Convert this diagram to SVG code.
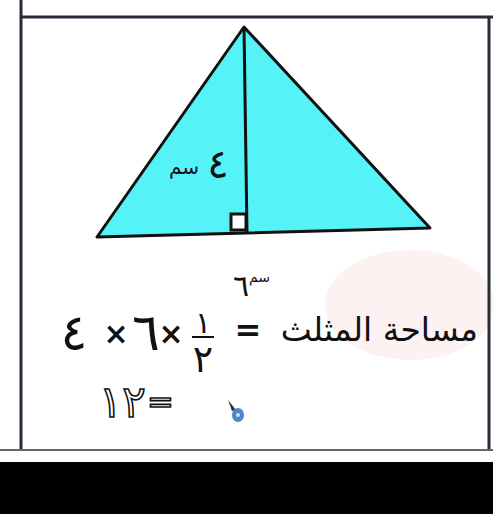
<svg xmlns="http://www.w3.org/2000/svg" width="493" height="514" viewBox="0 0 493 514">
<style>
.ar{font-family:"DejaVu Sans",sans-serif;fill:#111}
.frame{stroke:#2a2a3a;stroke-width:3;fill:none}
.edge{stroke:#111;stroke-width:3;stroke-linejoin:round}
</style>
<rect width="493" height="514" fill="#fff"/>
<ellipse cx="410" cy="305" rx="85" ry="55" fill="#fbeaea" opacity="0.6"/>
<g id="frame">
<line class="frame" x1="20" y1="17" x2="493" y2="17"/>
<line class="frame" x1="21" y1="0" x2="21" y2="450"/>
<line class="frame" x1="489" y1="17" x2="489" y2="450"/>
<line x1="0" y1="450" x2="493" y2="450" stroke="#666" stroke-width="2"/>
</g>
<rect x="0" y="462" width="493" height="52" fill="#000"/>
<g id="triangle">
<polygon class="edge" points="244,27 97,237 430,228" style="fill:#55f3f8"/>
<line class="edge" x1="244" y1="27" x2="247" y2="233" stroke-width="2.5"/>
<rect x="231" y="214" width="15" height="16" fill="#fff" stroke="#111" stroke-width="3"/>
<text class="ar" x="218" y="178" font-size="40" text-anchor="middle">٤</text>
<text class="ar" x="184" y="174" font-size="20" text-anchor="middle">سم</text>
</g>
<g id="formula">
<text class="ar" x="241" y="296" font-size="30" text-anchor="middle">٦</text>
<text class="ar" x="249" y="282" font-size="14" text-anchor="start">سم</text>
<text class="ar" x="478" y="341" font-size="33" text-anchor="end">مساحة المثلث</text>
<text class="ar" x="248" y="341" font-size="32" text-anchor="middle" font-weight="bold">=</text>
<text class="ar" x="203" y="333" font-size="30" text-anchor="middle">١</text>
<line x1="192" y1="337" x2="214" y2="337" stroke="#111" stroke-width="2"/>
<text class="ar" x="203" y="372" font-size="38" text-anchor="middle">٢</text>
<text class="ar" x="171" y="344" font-size="30" text-anchor="middle" font-weight="bold">×</text>
<text class="ar" x="146" y="350" font-size="52" text-anchor="middle">٦</text>
<text class="ar" x="116" y="344" font-size="30" text-anchor="middle" font-weight="bold">×</text>
<text class="ar" x="74" y="350" font-size="50" text-anchor="middle">٤</text>
<text x="146" y="417" font-size="44" text-anchor="end" font-family="DejaVu Sans,sans-serif" fill="#fff" stroke="#111" stroke-width="1.6">١٢</text>
<text x="147" y="413" font-size="32" font-family="DejaVu Sans,sans-serif" fill="#fff" stroke="#111" stroke-width="1.6">=</text>
</g>
<g id="cursor">
<path d="M228,400 L236,410 L232,411 Z" fill="#333"/>
<ellipse cx="238" cy="415" rx="6" ry="7" fill="#4a86c8"/>
<circle cx="238" cy="415" r="2" fill="#cfe3f8"/>
</g>
</svg>
